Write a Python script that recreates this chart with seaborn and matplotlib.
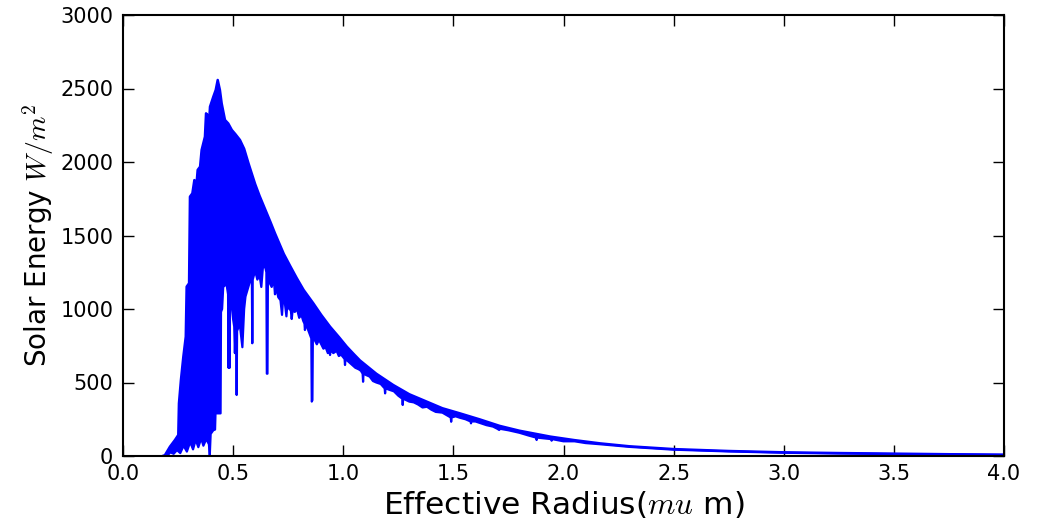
import matplotlib
matplotlib.use("Agg")
import matplotlib.pyplot as plt
import seaborn as sns

# upper edge of the spectrum band (wavelength in um, flux in W/m^2)
top_wl = [0.180, 0.190, 0.213, 0.236, 0.251, 0.254, 0.263, 0.274, 0.285, 0.289,
          0.300, 0.304, 0.315, 0.324, 0.334, 0.339, 0.350, 0.357, 0.372, 0.377,
          0.384, 0.387, 0.395, 0.410, 0.421, 0.430, 0.440, 0.448, 0.463, 0.478,
          0.494, 0.510, 0.531, 0.550, 0.570, 0.600, 0.620, 0.645, 0.670, 0.690,
          0.730, 0.760, 0.789, 0.820, 0.864, 0.900, 0.940, 0.980, 1.016, 1.050,
          1.076, 1.150, 1.227, 1.300, 1.379, 1.450, 1.530, 1.620, 1.710, 1.800,
          1.940, 2.050, 2.166, 2.300, 2.500, 2.750, 3.000, 3.250, 3.500, 3.750,
          4.000]
top_flux = [0, 5, 63, 109, 143, 358, 517, 676, 812, 1152,
            1175, 1764, 1787, 1877, 1855, 1946, 1968, 2082, 2172, 2331,
            2320, 2172, 2376, 2444, 2490, 2558, 2490, 2399, 2286, 2262,
            2218, 2190, 2150, 2090, 1990, 1850, 1770, 1680, 1590, 1515,
            1375, 1290, 1210, 1130, 1039, 960, 880, 810, 744, 690,
            650, 560, 483, 420, 370, 325, 290, 249, 205, 172,
            132, 108, 86, 66, 47, 34, 25, 20, 16, 12,
            9]

# lower edge of the band, absorption dips included
low_wl = [0.180, 0.200, 0.215, 0.230, 0.245, 0.260, 0.275, 0.290, 0.305, 0.318,
          0.330, 0.342, 0.355, 0.365, 0.378, 0.390, 0.394, 0.398, 0.410, 0.418,
          0.420, 0.443, 0.445, 0.450, 0.455, 0.470, 0.477, 0.479, 0.481, 0.484,
          0.486, 0.492, 0.500, 0.505, 0.508, 0.511, 0.514, 0.516, 0.518, 0.530,
          0.542, 0.550, 0.556, 0.565, 0.575, 0.585, 0.587, 0.589, 0.600, 0.610,
          0.620, 0.628, 0.635, 0.645, 0.651, 0.653, 0.656, 0.658, 0.665, 0.675,
          0.685, 0.690, 0.695, 0.705, 0.715, 0.722, 0.726, 0.735, 0.742, 0.746,
          0.755, 0.762, 0.766, 0.770, 0.780, 0.790, 0.800, 0.810, 0.818, 0.824,
          0.826, 0.830, 0.845, 0.855, 0.857, 0.860, 0.862, 0.870, 0.880, 0.890,
          0.900, 0.910, 0.920, 0.930, 0.938, 0.940, 0.942, 0.955, 0.970, 0.980,
          0.990, 1.006, 1.008, 1.010, 1.025, 1.040, 1.055, 1.070, 1.080, 1.088,
          1.090, 1.092, 1.105, 1.120, 1.135, 1.150, 1.170, 1.188, 1.190, 1.192,
          1.210, 1.230, 1.250, 1.268, 1.270, 1.272, 1.300, 1.320, 1.340, 1.360,
          1.380, 1.400, 1.420, 1.450, 1.488, 1.490, 1.492, 1.510, 1.530, 1.555,
          1.578, 1.580, 1.582, 1.600, 1.620, 1.650, 1.680, 1.700, 1.708, 1.712,
          1.750, 1.800, 1.840, 1.876, 1.878, 1.880, 1.910, 1.944, 1.946, 1.948,
          2.000, 2.050, 2.100, 2.166, 2.300, 2.500, 2.750, 3.000, 3.250, 3.500,
          3.750, 4.000]
low_flux = [0, 0, 25, 15, 40, 20, 70, 30, 95, 45,
            110, 60, 120, 70, 115, 80, 5, 150, 175, 180,
            290, 290, 980, 1000, 1150, 1170, 1100, 600, 1000, 600,
            1100, 1050, 930, 880, 700, 880, 870, 415, 850, 900,
            740, 1000, 1084, 1130, 1180, 1200, 767, 1200, 1260, 1200,
            1230, 1150, 1280, 1290, 1250, 560, 560, 1250, 1180, 1150,
            1200, 1100, 1150, 1080, 1060, 960, 1050, 1040, 950, 1030,
            1000, 990, 932, 990, 980, 1000, 940, 960, 920, 900,
            857, 900, 840, 800, 370, 380, 800, 790, 760, 790,
            760, 730, 740, 700, 720, 687, 720, 700, 715, 680,
            690, 660, 619, 660, 640, 620, 600, 590, 580, 560,
            505, 560, 550, 540, 510, 500, 490, 460, 426, 460,
            450, 440, 410, 390, 347, 390, 370, 365, 350, 330,
            335, 315, 300, 295, 262, 233, 262, 270, 260, 250,
            235, 222, 235, 235, 225, 210, 200, 185, 177, 185,
            175, 158, 140, 125, 109, 125, 120, 115, 104, 115,
            100, 100, 88, 80, 62, 43, 31, 22, 17, 13,
            10, 7]

x_ticks = [0.0, 0.5, 1.0, 1.5, 2.0, 2.5, 3.0, 3.5, 4.0]
y_ticks = [0, 500, 1000, 1500, 2000, 2500, 3000]

sns.set_style("ticks", {"xtick.direction": "in", "ytick.direction": "in"})
plt.rcParams["font.family"] = ["DejaVu Sans"]
plt.rcParams["mathtext.fontset"] = "cm"
plt.rcParams["text.color"] = "black"
plt.rcParams["axes.labelcolor"] = "black"
plt.rcParams["xtick.color"] = "black"
plt.rcParams["ytick.color"] = "black"

fig = plt.figure(figsize=(10.46, 5.26), dpi=100)
ax = fig.add_axes([123 / 1046, 1 - 456 / 526, (1004 - 123) / 1046, (456 - 15) / 526])

# band body, then its two edges as lines
ax.fill(top_wl + low_wl[::-1], top_flux + low_flux[::-1], color="blue", lw=0)
sns.lineplot(x=top_wl, y=top_flux, sort=False, estimator=None, color="blue", lw=1.8, ax=ax)
sns.lineplot(x=low_wl, y=low_flux, sort=False, estimator=None, color="blue", lw=1.6, ax=ax)

ax.set_xlim(0, 4)
ax.set_ylim(0, 3000)
ax.set_xticks(x_ticks)
ax.set_xticklabels([f"{t:.1f}" for t in x_ticks])
ax.set_yticks(y_ticks)
ax.tick_params(top=True, right=True, length=8, width=1, labelsize=15, color="black")
ax.tick_params(axis="x", pad=6)
ax.tick_params(axis="y", pad=7)
for s in ax.spines.values():
    s.set_linewidth(1.5)
    s.set_color("black")

ax.set_xlabel("Effective Radius($mu$ m)", fontsize=22.5, labelpad=3)
ax.set_ylabel("Solar Energy $W/m^2$", fontsize=20, labelpad=3)

fig.savefig("out.png", dpi=100)
